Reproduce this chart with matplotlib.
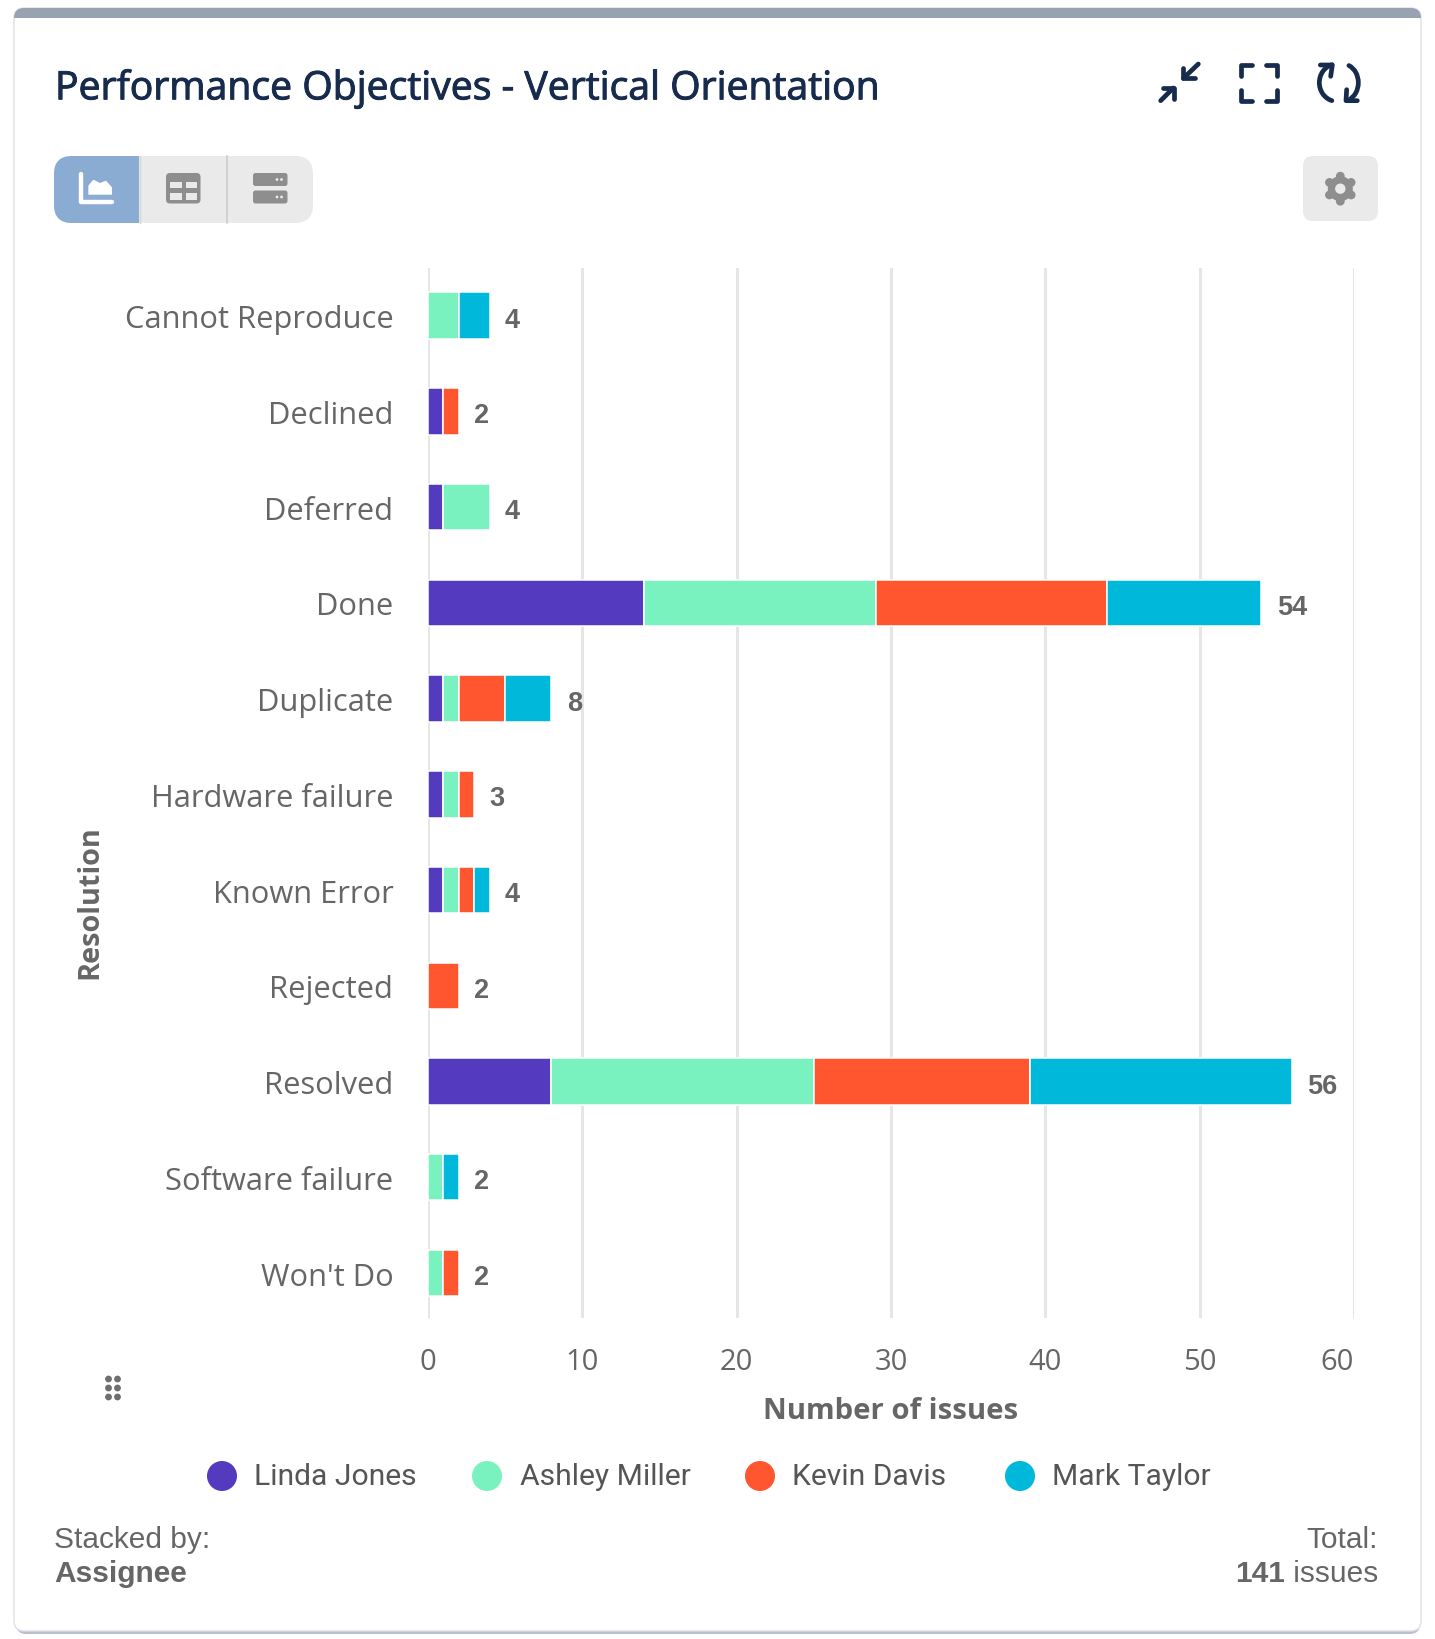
import matplotlib
matplotlib.use('Agg')
import matplotlib.pyplot as plt
import matplotlib.patheffects as pe
import numpy as np
from matplotlib.patches import FancyBboxPatch, Rectangle, Circle, Polygon, Arc

# Stacked bar data
resolutions = ['Cannot Reproduce', 'Declined', 'Deferred', 'Done', 'Duplicate', 'Hardware failure',
               'Known Error', 'Rejected', 'Resolved', 'Software failure', "Won't Do"]
assignees = ['Linda Jones', 'Ashley Miller', 'Kevin Davis', 'Mark Taylor']
linda = [0, 1, 1, 14, 1, 1, 1, 0, 8, 0, 0]
ashley = [2, 0, 3, 15, 1, 1, 1, 0, 17, 1, 1]
kevin = [0, 1, 0, 15, 3, 1, 1, 2, 14, 0, 1]
mark = [2, 0, 0, 10, 3, 0, 1, 0, 17, 1, 0]
x_ticks = [0, 10, 20, 30, 40, 50, 60]
colors = ['#533ABE', '#79F2C0', '#FF5630', '#00B8D9']

TEXT = '#666666'
NAVY = '#172B4D'
ICON = '#8E8E8E'
BTN = '#EAEAEA'
W, H = 1435, 1640

plt.rcParams['font.family'] = ['Open Sans', 'DejaVu Sans']
fig = plt.figure(figsize=(W / 100, H / 100), dpi=100, facecolor='white')

# Overlay in pixel coords for the card around the chart
bg = fig.add_axes([0, 0, 1, 1], zorder=0)
bg.set_xlim(0, W)
bg.set_ylim(H, 0)
bg.axis('off')

# card, shadow and top strip
bg.add_patch(FancyBboxPatch((16, 14), 1404, 1621, boxstyle='round,pad=0,rounding_size=10',
                            fc='#B9BFCC', ec='none'))
card = FancyBboxPatch((14, 9), 1407, 1623, boxstyle='round,pad=0,rounding_size=10',
                      fc='white', ec='#DDE0E6', lw=1)
bg.add_patch(card)
strip = Rectangle((14, 9), 1407, 10, fc='#98A2B1', ec='none')
bg.add_patch(strip)
strip.set_clip_path(card)

# no medium weight installed, a thin stroke thickens the regular face
title = bg.text(55, 90, 'Performance Objectives - Vertical Orientation', fontsize=28.2, color=NAVY,
                va='center', ha='left')
title.set_path_effects([pe.withStroke(linewidth=0.7, foreground=NAVY)])


def zoom_line(points, x0=1140, y0=40, **kw):
    xs = [x0 + p[0] / 3 for p in points]
    ys = [y0 + p[1] / 3 for p in points]
    bg.plot(xs, ys, solid_capstyle='round', solid_joinstyle='round', **kw)


# header icons
for pts in [[(175, 75), (130, 118)], [(130, 88), (130, 118), (165, 118)],
            [(62, 185), (100, 147)], [(68, 147), (103, 147), (103, 180)],
            [(336, 78), (302, 78), (302, 110)], [(378, 78), (412, 78), (412, 110)],
            [(302, 152), (302, 185), (336, 185)], [(412, 152), (412, 185), (378, 185)],
            [(541, 78), (577, 78), (572, 112)], [(652, 185), (618, 185), (620, 152)]]:
    zoom_line(pts, color=NAVY, lw=3.4)
bg.add_patch(Arc((1140 + 590 / 3, 40 + 131 / 3), 104 / 3, 112 / 3, theta1=105, theta2=245 + 10,
                 ec=NAVY, lw=3.4, capstyle='round'))
bg.add_patch(Arc((1140 + 608 / 3, 40 + 131 / 3), 94 / 3, 112 / 3, theta1=-70, theta2=70,
                 ec=NAVY, lw=3.4, capstyle='round'))

# view switcher
seg = FancyBboxPatch((54, 157), 259, 67, boxstyle='round,pad=0,rounding_size=18', fc=BTN, ec='none')
bg.add_patch(seg)
blue = Rectangle((54, 157), 85, 67, fc='#8AABD2', ec='none')
bg.add_patch(blue)
blue.set_clip_path(seg)
bg.plot([227, 227], [157, 224], color='#CDCDCD', lw=1.2)
bg.plot([140, 140], [157, 224], color='#D5D5D5', lw=1)
zoom_line([(122, 105), (122, 188), (217, 188)], x0=40, y0=140, color='white', lw=3.2)
bg.add_patch(Polygon([(40 + a / 3, 140 + b / 3) for a, b in
                      [(145, 167), (145, 140), (160, 122), (180, 132), (198, 125), (216, 145), (216, 167)]],
                     fc='white', ec='none'))
bg.add_patch(FancyBboxPatch((166, 174), 34.5, 30.5, boxstyle='round,pad=0,rounding_size=4', fc=ICON, ec='none'))
for cx, cy in [(170, 182.5), (185.5, 182.5), (170, 194), (185.5, 194)]:
    bg.add_patch(Rectangle((cx, cy), 11.5, 6.5, fc=BTN, ec='none'))
for top in [174, 191.5]:
    bg.add_patch(FancyBboxPatch((253, top), 34.5, 13, boxstyle='round,pad=0,rounding_size=2.5', fc=ICON, ec='none'))
    bg.add_patch(Circle((277, top + 6.5), 1.4, fc=BTN, ec='none'))
    bg.add_patch(Circle((281.5, top + 6.5), 1.4, fc=BTN, ec='none'))

# settings button with gear
bg.add_patch(FancyBboxPatch((1303, 157), 75, 65, boxstyle='round,pad=0,rounding_size=10', fc=BTN, ec='none'))
gx, gy = 1340.3, 189.7
bg.add_patch(Circle((gx, gy), 12.5, fc=ICON, ec='none'))
for a in np.deg2rad([90, 150, 210, 270, 330, 30]):
    bg.add_patch(Circle((gx + 12.5 * np.cos(a), gy + 12.5 * np.sin(a)), 4.4, fc=ICON, ec='none'))
bg.add_patch(Circle((gx, gy), 5.2, fc=BTN, ec='none'))

# drag handle
for dx in [108.5, 117.5]:
    for dy in [1380, 1389, 1398]:
        bg.add_patch(Circle((dx, dy), 3.4, fc='#6E6E6E', ec='none'))

# Legend
legend_circle_x = [222, 487, 760, 1020]
legend_text_x = [254, 519.5, 792.5, 1052.5]
for name, color, cx, tx in zip(assignees, colors, legend_circle_x, legend_text_x):
    bg.add_patch(Circle((cx, 1477), 15, fc=color, ec='none'))
    bg.text(tx, 1477.5, name, fontsize=21.6, color='#555555', family=['Roboto', 'DejaVu Sans'],
            va='center', ha='left')

# Footer
foot = ['Liberation Sans', 'DejaVu Sans']
bg.text(54.5, 1540, 'Stacked by:', fontsize=21.5, color=TEXT, family=foot, va='center', ha='left')
bg.text(54.5, 1574, 'Assignee', fontsize=21.5, color=TEXT, family=foot, fontweight='bold', va='center', ha='left')
bg.text(1378, 1540, 'Total:', fontsize=21.5, color=TEXT, family=foot, va='center', ha='right')
t = bg.text(1378, 1574, ' issues', fontsize=21.5, color=TEXT, family=foot, va='center', ha='right')
bg.annotate('141', xy=(0, 0.5), xycoords=t, xytext=(0, 0), textcoords='offset points', fontsize=21.5,
            color=TEXT, family=foot, fontweight='bold', va='center', ha='right')

# Chart itself
left, right, top, bottom = 428, 1354, 269, 1319
ax = fig.add_axes([left / W, 1 - bottom / H, (right - left) / W, (bottom - top) / H], zorder=1)
ax.patch.set_alpha(0)

y = np.arange(len(resolutions))
series = [linda, ashley, kevin, mark]
running = np.zeros(len(resolutions))
for values, color in zip(series, colors):
    values = np.array(values)
    show = values > 0
    ax.barh(y[show], values[show], left=running[show], height=0.485, color=color, edgecolor='white',
            linewidth=1.1, zorder=3)
    running += values

for yi, total in zip(y, running):
    ax.annotate(str(int(total)), xy=(total, yi), xytext=(11, -3), textcoords='offset points', fontsize=19.5,
                fontweight='bold', color=TEXT, family=foot, va='center', ha='left')

ax.set_xlim(0, 60)
ax.set_ylim(10.47, -0.497)
ax.set_yticks(y)
ax.set_yticklabels(resolutions, fontsize=22.2, color=TEXT)
ax.set_xticks(x_ticks)
ax.set_xticklabels([str(v) for v in x_ticks], fontsize=21, color=TEXT)
ax.get_xticklabels()[-1].set_ha('right')
ax.tick_params(axis='y', length=0, pad=25)
ax.tick_params(axis='x', length=0, pad=21)
ax.grid(axis='x', color='#E6E6E6', lw=2.2, zorder=0)
ax.set_axisbelow(True)
for side in ax.spines:
    ax.spines[side].set_visible(False)

ax.set_xlabel('Number of issues', fontsize=21.1, fontweight='bold', color=TEXT)
ax.xaxis.set_label_coords(0.5, -0.074)
ax.set_ylabel('Resolution', fontsize=20.8, fontweight='bold', color=TEXT)
ax.yaxis.set_label_coords((104 - left) / (right - left), 1 - (902 - top) / (bottom - top))

fig.savefig('out.png', dpi=100)
